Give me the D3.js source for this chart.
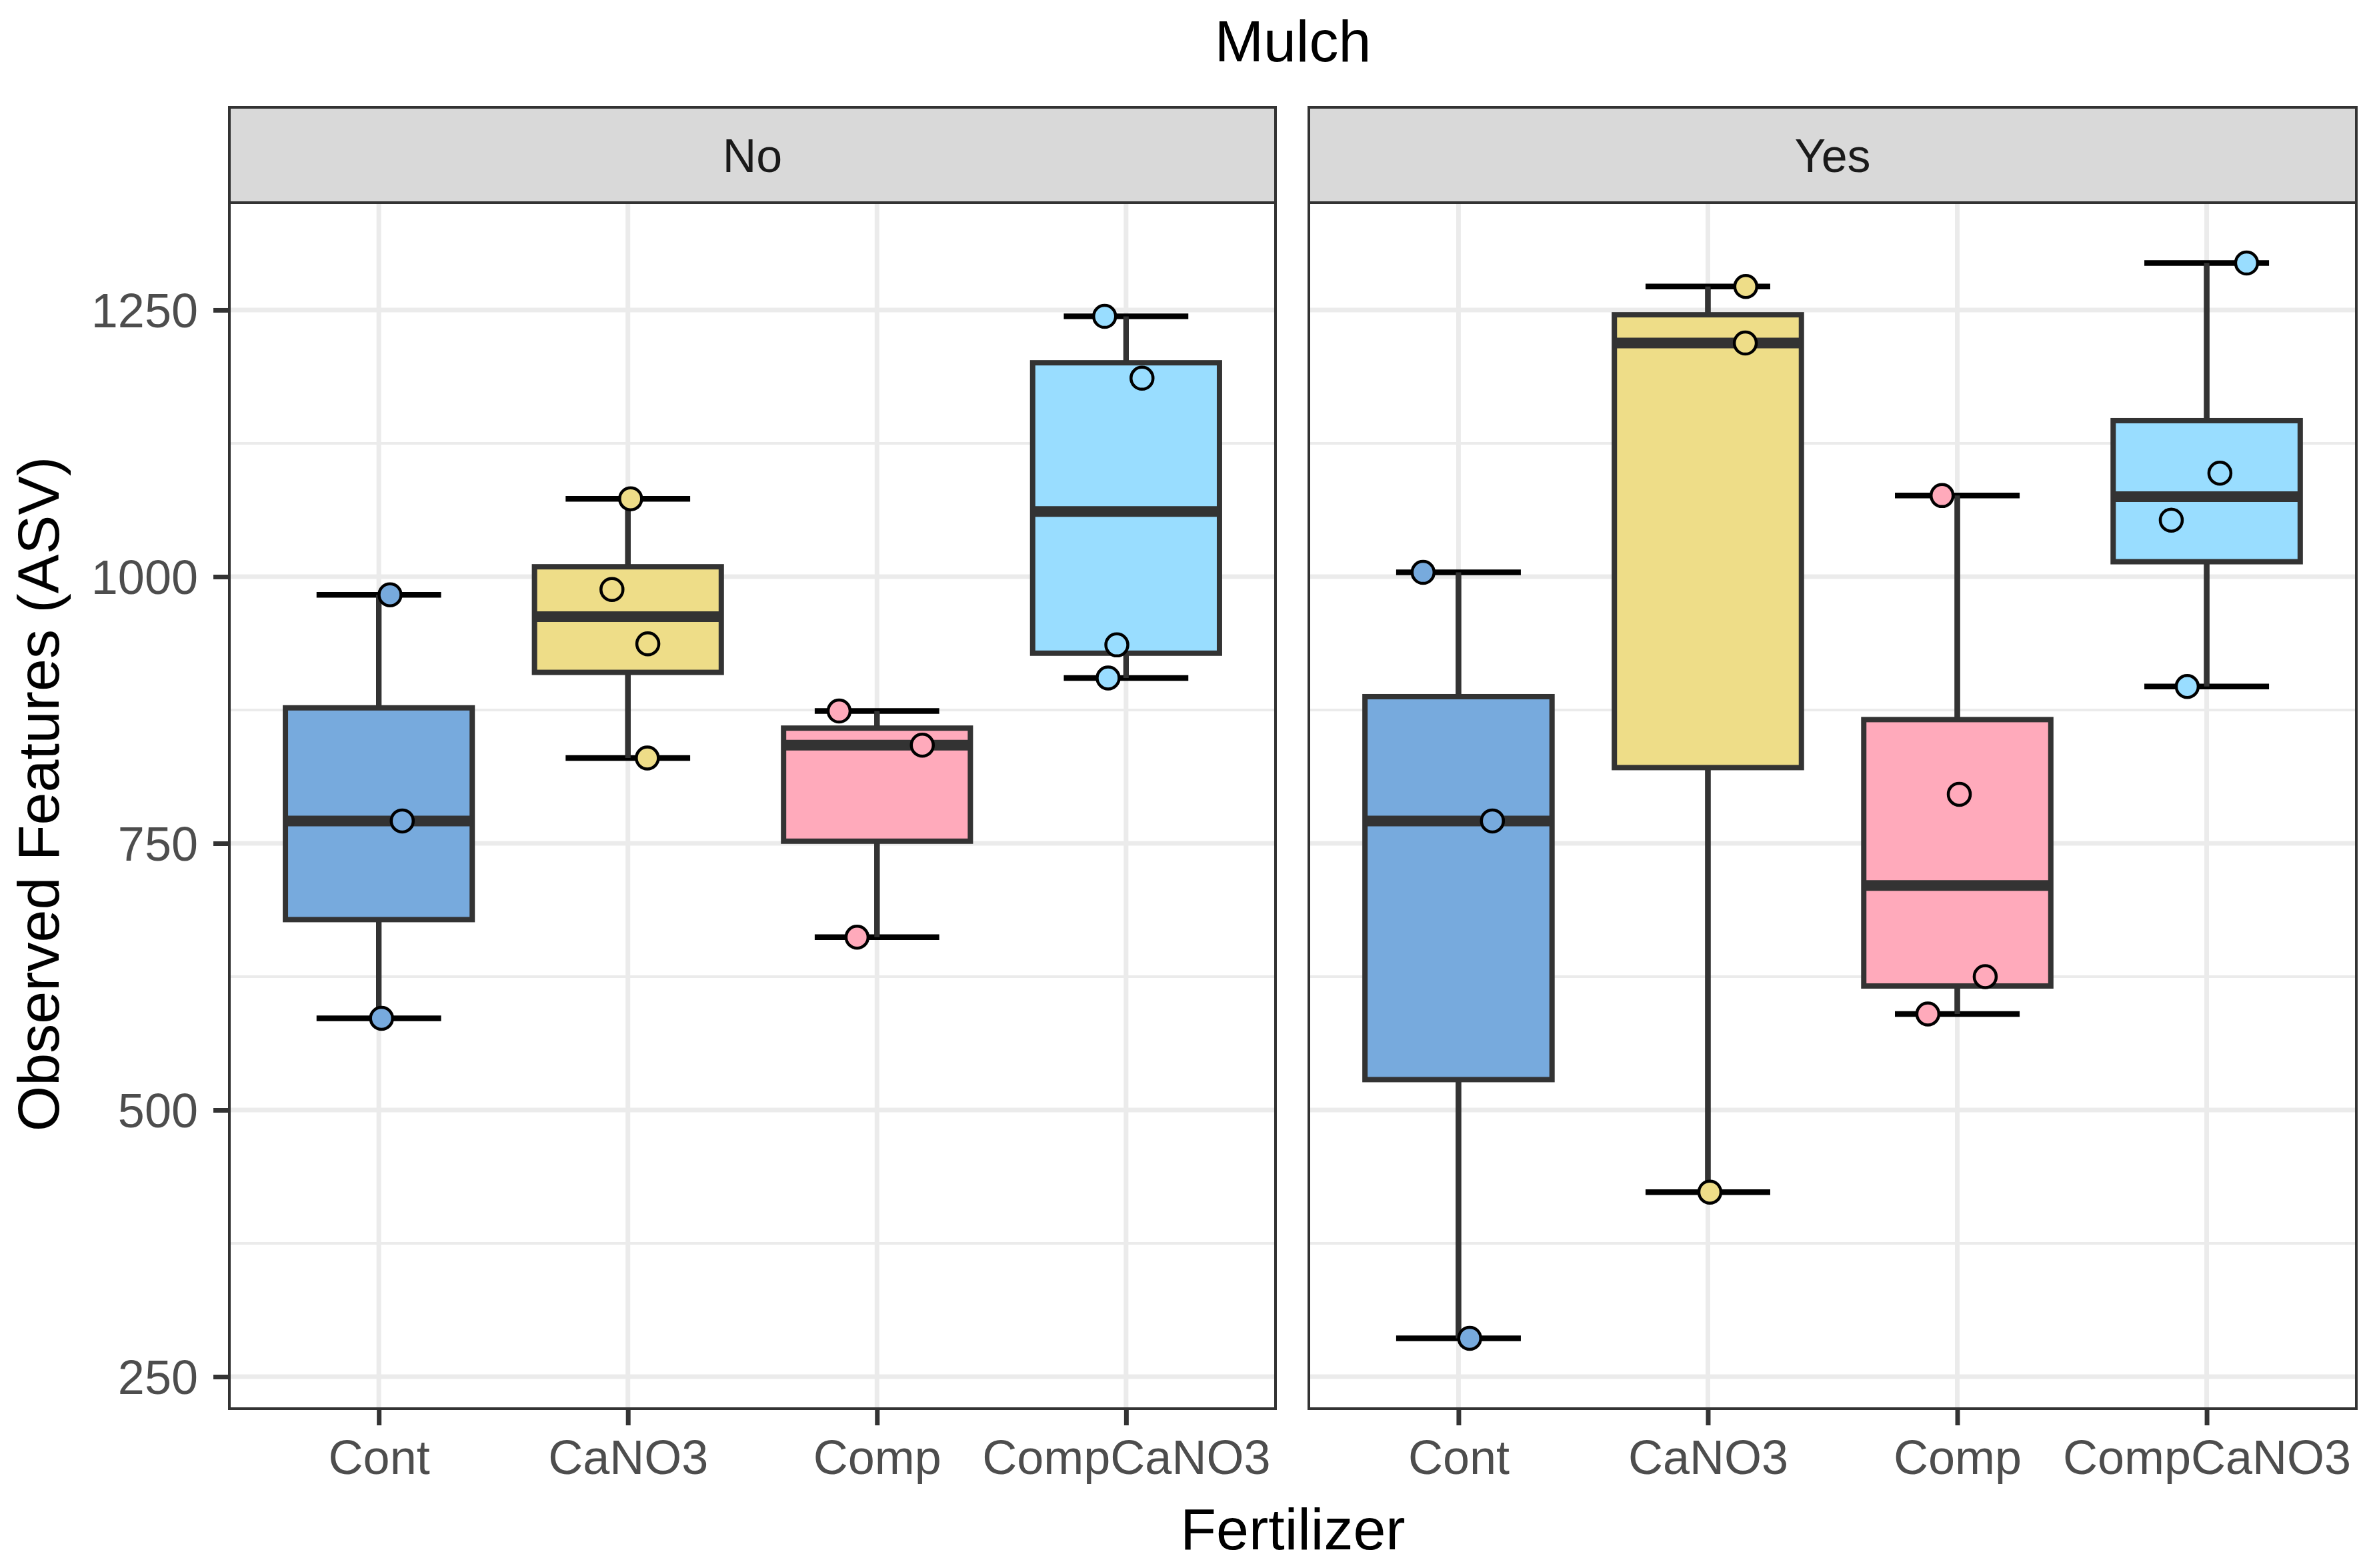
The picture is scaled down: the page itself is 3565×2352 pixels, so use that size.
<!DOCTYPE html>
<meta charset="utf-8">
<html>
<head>
    <title>Observed Features by Fertilizer and Mulch</title>
</head>
<style>
    *{ margin:0; padding:0;}
    body{ background:#fff;}
    text{ font-family:"Liberation Sans", Arial, Helvetica, sans-serif;}
</style>
<script src="https://cdn.jsdelivr.net/npm/d3@7"></script>
<body>
<div id="chartContainer"></div>
<script type="text/javascript">

    // facets (Mulch) and categories (Fertilizer)
    var mulch = ["No", "Yes"];
    var fertilizers = ["Cont", "CaNO3", "Comp", "CompCaNO3"];
    var fills = ["#77AADD", "#EEDD88", "#FFAABB", "#99DDFF"];

    // observed features per sample
    var valuesNo  = [[983, 771, 586], [1073, 988, 937, 830], [874, 842, 662], [1244, 1186, 936, 905]];
    var valuesYes = [[1004, 771, 286], [1272, 1219, 423], [1076, 796, 625, 590], [1294, 1097, 1053, 897]];

    // horizontal jitter of each point, in category steps
    var jitterNo  = [[0.045, 0.094, 0.011], [0.011, -0.064, 0.080, 0.078], [-0.152, 0.182, -0.080], [-0.086, 0.064, -0.037, -0.072]];
    var jitterYes = [[-0.142, 0.136, 0.045], [0.152, 0.150, 0.008], [-0.061, 0.008, 0.112, -0.118], [0.160, 0.053, -0.142, -0.078]];

    var yTicks = [250, 500, 750, 1000, 1250];
    var yMinor = [375, 625, 875, 1125];

    var W = 3565, H = 2352;
    var panels = [{x0: 344, x1: 1913}, {x0: 1963, x1: 3534}];
    var stripTop = 161, panelTop = 304, panelBottom = 2113;
    var dark = "#333333";

    var svg = d3.select("#chartContainer").append("svg")
        .attr("width", W).attr("height", H)
        .style("display", "block");
    svg.append("rect").attr("width", W).attr("height", H).attr("fill", "#fff");

    var y = d3.scaleLinear().domain([220, 1350.6]).range([panelBottom, panelTop]);

    function boxStats(vals) {
        var s = vals.slice().sort(d3.ascending);
        var q1 = d3.quantile(s, 0.25), med = d3.quantile(s, 0.5), q3 = d3.quantile(s, 0.75);
        var iqr = q3 - q1;
        var inside = s.filter(function (v) { return v >= q1 - 1.5 * iqr && v <= q3 + 1.5 * iqr; });
        return {q1: q1, med: med, q3: q3, lo: d3.min(inside), hi: d3.max(inside)};
    }

    var allValues = [valuesNo, valuesYes];
    var allJitter = [jitterNo, jitterYes];

    panels.forEach(function (p, pi) {
        var x = d3.scalePoint().domain(fertilizers).range([p.x0, p.x1]).padding(0.6);
        var step = x.step();
        var g = svg.append("g");

        // grid
        g.selectAll(".minor").data(yMinor).enter().append("line")
            .attr("x1", p.x0).attr("x2", p.x1)
            .attr("y1", function (d) { return y(d); }).attr("y2", function (d) { return y(d); })
            .attr("stroke", "#EBEBEB").attr("stroke-width", 4);
        g.selectAll(".major").data(yTicks).enter().append("line")
            .attr("x1", p.x0).attr("x2", p.x1)
            .attr("y1", function (d) { return y(d); }).attr("y2", function (d) { return y(d); })
            .attr("stroke", "#EBEBEB").attr("stroke-width", 7);
        g.selectAll(".vgrid").data(fertilizers).enter().append("line")
            .attr("x1", function (d) { return x(d); }).attr("x2", function (d) { return x(d); })
            .attr("y1", panelTop).attr("y2", panelBottom)
            .attr("stroke", "#EBEBEB").attr("stroke-width", 7);

        var groups = fertilizers.map(function (f, i) {
            return {f: f, i: i, vals: allValues[pi][i], jit: allJitter[pi][i], st: boxStats(allValues[pi][i])};
        });

        // errorbar whisker caps (width 0.5)
        var eb = g.selectAll(".eb").data(groups).enter().append("g");
        eb.append("line")
            .attr("x1", function (d) { return x(d.f); }).attr("x2", function (d) { return x(d.f); })
            .attr("y1", function (d) { return y(d.st.lo); }).attr("y2", function (d) { return y(d.st.hi); })
            .attr("stroke", "#000").attr("stroke-width", 8);
        eb.append("line")
            .attr("x1", function (d) { return x(d.f) - step * 0.25; }).attr("x2", function (d) { return x(d.f) + step * 0.25; })
            .attr("y1", function (d) { return y(d.st.lo); }).attr("y2", function (d) { return y(d.st.lo); })
            .attr("stroke", "#000").attr("stroke-width", 8.5);
        eb.append("line")
            .attr("x1", function (d) { return x(d.f) - step * 0.25; }).attr("x2", function (d) { return x(d.f) + step * 0.25; })
            .attr("y1", function (d) { return y(d.st.hi); }).attr("y2", function (d) { return y(d.st.hi); })
            .attr("stroke", "#000").attr("stroke-width", 8.5);

        // boxplots (width 0.75)
        var bx = g.selectAll(".box").data(groups).enter().append("g");
        bx.append("line")
            .attr("x1", function (d) { return x(d.f); }).attr("x2", function (d) { return x(d.f); })
            .attr("y1", function (d) { return y(d.st.q3); }).attr("y2", function (d) { return y(d.st.hi); })
            .attr("stroke", dark).attr("stroke-width", 8);
        bx.append("line")
            .attr("x1", function (d) { return x(d.f); }).attr("x2", function (d) { return x(d.f); })
            .attr("y1", function (d) { return y(d.st.q1); }).attr("y2", function (d) { return y(d.st.lo); })
            .attr("stroke", dark).attr("stroke-width", 8);
        bx.append("rect")
            .attr("x", function (d) { return x(d.f) - step * 0.375; })
            .attr("width", step * 0.75)
            .attr("y", function (d) { return y(d.st.q3); })
            .attr("height", function (d) { return y(d.st.q1) - y(d.st.q3); })
            .attr("fill", function (d) { return fills[d.i]; })
            .attr("stroke", dark).attr("stroke-width", 8);
        bx.append("line")
            .attr("x1", function (d) { return x(d.f) - step * 0.375; }).attr("x2", function (d) { return x(d.f) + step * 0.375; })
            .attr("y1", function (d) { return y(d.st.med); }).attr("y2", function (d) { return y(d.st.med); })
            .attr("stroke", dark).attr("stroke-width", 16);

        // jittered points
        var pts = [];
        groups.forEach(function (gr) {
            gr.vals.forEach(function (v, k) { pts.push({f: gr.f, i: gr.i, v: v, j: gr.jit[k]}); });
        });
        g.selectAll(".pt").data(pts).enter().append("circle")
            .attr("cx", function (d) { return x(d.f) + d.j * step; })
            .attr("cy", function (d) { return y(d.v); })
            .attr("r", 16.5)
            .attr("fill", function (d) { return fills[d.i]; })
            .attr("stroke", "#000").attr("stroke-width", 4.5);

        // panel border
        g.append("rect")
            .attr("x", p.x0).attr("y", panelTop)
            .attr("width", p.x1 - p.x0).attr("height", panelBottom - panelTop)
            .attr("fill", "none").attr("stroke", dark).attr("stroke-width", 4);

        // strip
        g.append("rect")
            .attr("x", p.x0).attr("y", stripTop)
            .attr("width", p.x1 - p.x0).attr("height", panelTop - stripTop)
            .attr("fill", "#D9D9D9").attr("stroke", dark).attr("stroke-width", 4);
        g.append("text")
            .attr("x", (p.x0 + p.x1) / 2).attr("y", (stripTop + panelTop) / 2)
            .attr("dy", "0.36em")
            .attr("text-anchor", "middle")
            .attr("font-size", 70).attr("fill", "#1A1A1A")
            .text(mulch[pi]);

        // x axis
        var xa = svg.append("g")
            .attr("transform", "translate(0," + panelBottom + ")")
            .call(d3.axisBottom(x).tickSize(25).tickPadding(22));
        xa.select(".domain").remove();
        xa.selectAll(".tick line").attr("stroke", dark).attr("stroke-width", 7);
        xa.selectAll(".tick text").attr("font-size", 72).attr("fill", "#4D4D4D")
            .attr("font-family", "Liberation Sans, Arial, sans-serif");

        if (pi === 0) {
            var ya = svg.append("g")
                .attr("transform", "translate(" + p.x0 + ",0)")
                .call(d3.axisLeft(y).tickValues(yTicks).tickFormat(d3.format("d")).tickSize(24).tickPadding(23));
            ya.select(".domain").remove();
            ya.selectAll(".tick line").attr("stroke", dark).attr("stroke-width", 7);
            ya.selectAll(".tick text").attr("font-size", 72).attr("fill", "#4D4D4D")
                .attr("dy", "0.36em")
                .attr("font-family", "Liberation Sans, Arial, sans-serif");
        }
    });

    // titles
    svg.append("text")
        .attr("x", (panels[0].x0 + panels[1].x1) / 2).attr("y", 92)
        .attr("text-anchor", "middle").attr("font-size", 88).attr("fill", "#000")
        .text("Mulch");
    svg.append("text")
        .attr("x", (panels[0].x0 + panels[1].x1) / 2).attr("y", 2324)
        .attr("text-anchor", "middle").attr("font-size", 88).attr("fill", "#000")
        .text("Fertilizer");
    svg.append("text")
        .attr("transform", "translate(88,1191) rotate(-90)")
        .attr("text-anchor", "middle").attr("font-size", 88).attr("fill", "#000")
        .text("Observed Features (ASV)");

</script>
</body>
</html>
